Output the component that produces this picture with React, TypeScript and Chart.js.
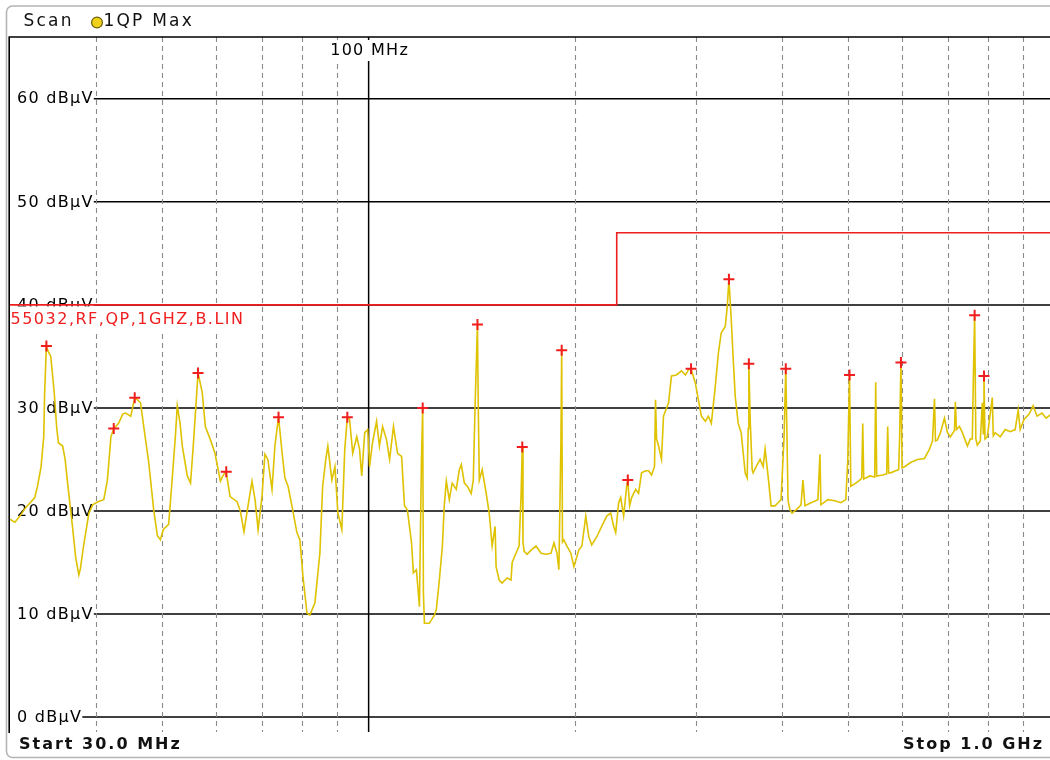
import React, { useEffect, useRef } from "react";
import { Chart, registerables } from "chart.js";

Chart.register(...registerables);

// ---------- data ----------
const traceFreqs = [
  30.0, 30.5, 31.1, 31.6, 32.2, 32.6, 32.9, 33.3, 33.5, 33.6, 33.7, 33.9, 34.1, 34.4, 34.8, 35.1, 35.3, 35.8, 36.1, 36.4,
  37.0, 37.4, 37.8, 38.0, 38.4, 39.1, 39.6, 40.3, 41.1, 41.6, 42.1, 42.5, 43.2, 43.8, 44.2, 45.0, 45.6, 46.0, 46.5, 47.0,
  47.8, 48.6, 49.2, 49.7, 50.2, 51.1, 51.7, 52.3, 52.6, 53.1, 53.5, 54.4, 55.0, 55.5, 56.1, 56.4, 57.2, 57.8, 58.8, 59.7,
  60.8, 61.4, 62.0, 62.8, 64.3, 65.0, 65.8, 66.7, 67.6, 68.3, 69.0, 69.9, 70.6, 71.3, 72.3, 73.0, 73.9, 74.8, 75.5, 76.3,
  77.3, 78.6, 79.4, 80.2, 81.3, 82.1, 83.5, 84.9, 85.7, 86.6, 87.2, 88.4, 89.3, 90.2, 91.4, 92.3, 93.1,
  93.8, 94.8, 96.1, 97.0, 97.7, 98.7, 99.7, 100.3, 101.3, 102.7, 103.7, 104.8, 106.2, 107.3, 108.7, 110.2, 111.7, 112.8,
  113.9, 115.5, 116.2, 117.4, 118.6, 119.4, 119.9, 120.2, 120.6, 122.6, 124.7, 125.5, 126.8, 128.1, 128.9, 129.8, 131.1,
  132.4, 134.2, 135.6, 136.5, 137.9, 139.3, 141.1, 142.1, 143.0, 144.1, 144.5, 145.0, 146.4, 148.4, 149.9, 151.4, 152.9,
  153.4, 155.0, 156.5, 159.2, 161.3, 161.9, 164.0, 165.7, 166.8, 167.5, 167.9, 168.5, 170.2, 172.5, 175.4, 178.4, 181.4,
  184.4, 186.3, 188.2, 189.4, 190.7, 191.2, 191.7, 192.6, 194.6, 197.2, 199.2, 202.5, 204.6, 207.3, 209.4, 211.5, 215.1,
  218.7, 222.4, 225.4, 227.7, 229.2, 231.5, 233.1, 235.4, 237.8, 238.7, 240.2, 241.8, 245.1, 247.5, 250.0, 253.4, 256.0,
  258.5, 261.1, 262.0, 262.9, 264.7, 267.3, 269.1, 273.7, 276.4, 281.1, 285.8, 289.7, 292.6, 295.2, 299.5, 302.5,
  305.6, 309.7, 312.8, 316.0, 320.2, 323.5, 326.7, 331.1, 333.4, 335.2, 337.8, 340.1, 342.4, 345.8, 349.3, 351.7, 354.0,
  356.4, 357.6, 358.4, 360.0, 362.4, 363.6, 367.3, 372.2, 376.0, 378.5, 382.3, 386.2, 391.4, 395.3, 399.3, 403.4, 405.7,
  407.4, 408.8, 411.5, 414.3, 419.9, 427.0, 429.8, 432.7, 441.5, 451.9, 455.0, 456.5, 467.3, 478.4, 488.1, 496.3, 499.6,
  502.5, 504.7, 513.2, 520.1, 523.6, 525.3, 527.1, 530.6, 537.8, 546.9, 548.7, 550.5, 561.7, 569.3, 571.2, 573.1, 576.9,
  586.6, 592.6, 594.5, 597.2, 599.5, 604.6, 616.8, 631.4, 646.4, 657.3, 663.9, 668.4, 670.6, 675.1, 681.9, 691.1, 698.1,
  705.1, 714.6, 717.0, 719.4, 726.7, 734.0, 746.4, 753.9, 758.9, 761.5, 764.8, 767.9, 771.8, 779.5, 784.8, 787.4, 789.2,
  791.9, 798.0, 811.5, 814.2, 819.6, 833.5, 847.5, 861.8, 876.3, 885.2, 891.1, 903.1, 918.4, 930.7, 943.3, 959.2, 972.1,
  985.0, 1000.0,
];
const traceLevels = [
  19.2, 18.9, 19.6, 20.3, 20.9, 21.3, 22.4, 24.3, 26.3, 27.2, 31.5, 36.0, 35.5, 35.0, 31.5, 28.0, 26.6, 26.3, 25.0, 22.7,
  18.5, 15.5, 13.8, 14.4, 16.6, 19.8, 20.6, 20.9, 21.1, 23.0, 27.2, 28.0, 28.5, 29.4, 29.5, 29.2, 31.0, 30.8, 30.5, 28.2,
  24.7, 20.1, 17.6, 17.2, 18.2, 18.7, 23.0, 27.5, 30.2, 28.5, 26.3, 23.4, 22.7, 26.3, 31.0, 33.4, 31.5, 28.2, 26.9, 25.6,
  22.9, 23.5, 23.8, 21.4, 20.9, 20.0, 18.0, 20.5, 22.9, 21.1, 18.2, 21.4, 25.5, 25.0, 22.1, 26.3, 29.1, 25.6, 23.2, 22.4,
  20.5, 17.9, 17.2, 13.7, 10.1, 9.9, 11.1, 15.9, 22.4, 25.0, 26.3, 23.0, 24.3, 19.8, 18.2, 26.0, 29.1,
  28.9, 25.6, 27.2, 26.0, 23.4, 27.6, 27.9, 24.3, 26.6, 28.7, 26.3, 28.2, 26.9, 25.0, 28.2, 25.6, 25.3, 20.5,
  20.1, 16.9, 14.0, 14.3, 10.7, 25.0, 30.0, 12.0, 9.1, 9.1, 9.9, 10.4, 13.3, 16.6, 20.5, 22.9, 21.1,
  22.7, 22.1, 24.0, 24.5, 22.7, 22.4, 21.7, 23.0, 30.5, 38.1, 30.0, 23.0, 24.0, 21.7, 19.8, 16.6, 18.5,
  14.6, 13.3, 13.0, 13.5, 13.3, 15.0, 15.9, 16.6, 21.4, 26.2, 17.0, 16.1, 15.8, 16.2, 16.6, 15.9, 15.8,
  15.9, 16.9, 15.9, 14.3, 26.6, 35.6, 17.0, 17.2, 16.6, 15.9, 14.6, 16.2, 16.6, 19.5, 17.5, 16.7, 17.5,
  18.5, 19.5, 19.8, 18.5, 17.9, 20.8, 21.3, 19.5, 22.4, 23.0, 20.5, 21.3, 22.1, 21.7, 23.7, 23.9, 23.9,
  23.5, 24.3, 30.8, 27.0, 26.3, 25.0, 29.2, 30.5, 33.1, 33.2, 33.6, 33.2, 33.7, 33.8, 32.4, 30.8,
  29.2, 28.7, 29.2, 28.5, 32.1, 35.3, 37.3, 37.9, 39.9, 42.5, 38.6, 34.7, 31.1, 28.5, 27.6, 25.6, 23.7,
  23.2, 28.0, 34.3, 28.9, 24.0, 23.7, 24.3, 25.0, 24.3, 26.0, 23.4, 20.5, 20.5, 20.8, 21.1, 27.2, 33.8,
  27.0, 21.0, 20.1, 19.8, 20.1, 20.6, 23.0, 20.5, 20.8, 21.1, 25.5, 20.6, 21.1, 21.0, 20.8, 21.1, 25.0,
  33.2, 22.4, 22.7, 23.0, 23.2, 28.5, 23.1, 23.2, 23.4, 23.3, 32.5, 23.4, 23.5, 23.6, 28.2, 23.7, 23.7,
  23.9, 24.0, 27.0, 34.4, 24.2, 24.3, 24.7, 25.0, 25.1, 26.0, 26.8, 30.9, 26.8, 26.9, 27.6, 29.0, 27.6,
  27.2, 27.8, 30.6, 27.9, 28.2, 27.6, 26.3, 27.0, 27.0, 32.8, 39.0, 27.0, 26.4, 26.8, 30.5, 27.5, 33.1,
  27.0, 27.2, 31.0, 27.3, 27.6, 27.2, 27.9, 27.7, 27.9, 29.8, 27.9, 28.9, 29.4, 30.2, 29.2, 29.5, 29.0,
  29.3, 29.1,
];

const markerFreqs = [33.9, 42.5, 45.6, 56.4, 62.0, 73.9, 93.1, 119.9, 144.1, 167.5, 191.2, 238.7, 295.2, 335.2, 358.4, 405.7, 502.5, 597.2, 764.8, 789.2];
const markerLevels = [36.0, 28.0, 31.0, 33.4, 23.8, 29.1, 29.1, 30.0, 38.1, 26.2, 35.6, 23.0, 33.8, 42.5, 34.3, 33.8, 33.2, 34.4, 39.0, 33.1];

const limitFreqs = [30, 230, 230, 1000];
const limitLevels = [40, 40, 47, 47];
const limitName = "55032,RF,QP,1GHZ,B.LIN";

const yTickValues = [0, 10, 20, 30, 40, 50, 60];
const yTickUnit = "dBµV";
const xMinorFreqs = [40, 50, 60, 70, 80, 90, 200, 300, 400, 500, 600, 700, 800, 900];
const xMajorFreqs = [100];
const xMajorLabels = ["100 MHz"];

const freqStart = 30;
const freqStop = 1000;
const levelMin = -1.45;
const levelMax = 66;

const headerTitle = "Scan";
const traceName = "1QP Max";
const startLabel = "Start 30.0 MHz";
const stopLabel = "Stop 1.0 GHz";

const YELLOW = "#dfc200";
const RED = "#f01e1e";
const FONT = '"DejaVu Sans", Verdana, sans-serif';

function setSpacing(ctx: any, px: number) {
  if ("letterSpacing" in ctx) ctx.letterSpacing = px + "px";
}

const chromePlugin = {
  id: "chrome",
  beforeDraw(chart: any) {
    const ctx = chart.ctx as CanvasRenderingContext2D;
    ctx.save();
    ctx.fillStyle = "#ffffff";
    ctx.fillRect(0, 0, chart.width, chart.height);

    // outer rounded frame
    const fx = 6.5, fy = 6, fw = chart.width + 40, fh = 751.5, r = 6;
    ctx.strokeStyle = "#b4b4b4";
    ctx.lineWidth = 1.6;
    ctx.beginPath();
    ctx.moveTo(fx + r, fy);
    ctx.lineTo(fx + fw - r, fy);
    ctx.lineTo(fx + fw, fy + fh);
    ctx.moveTo(fx + r, fy);
    ctx.arcTo(fx, fy, fx, fy + r, r);
    ctx.lineTo(fx, fy + fh - r);
    ctx.arcTo(fx, fy + fh, fx + r, fy + fh, r);
    ctx.lineTo(fx + fw, fy + fh);
    ctx.stroke();

    // header
    ctx.fillStyle = "#111";
    ctx.textBaseline = "middle";
    ctx.textAlign = "left";
    ctx.font = `17px ${FONT}`;
    setSpacing(ctx, 2.2);
    ctx.fillText(headerTitle, 23.5, 21.5);
    ctx.beginPath();
    ctx.arc(97, 22.5, 5.4, 0, Math.PI * 2);
    ctx.fillStyle = "#f0d21a";
    ctx.fill();
    ctx.strokeStyle = "#6e5e08";
    ctx.lineWidth = 1.2;
    ctx.stroke();
    ctx.fillStyle = "#111";
    ctx.fillText(traceName, 103.5, 21.5);

    // footer
    ctx.font = `bold 16px ${FONT}`;
    setSpacing(ctx, 2);
    ctx.fillText(startLabel, 19, 745);
    ctx.textAlign = "right";
    ctx.fillText(stopLabel, 1044, 745);
    setSpacing(ctx, 0);
    ctx.restore();
  },
  beforeDatasetsDraw(chart: any) {
    const ctx = chart.ctx as CanvasRenderingContext2D;
    const ca = chart.chartArea;
    const xs = chart.scales.x;
    const ys = chart.scales.y;
    ctx.save();

    // horizontal level lines
    ctx.strokeStyle = "#000";
    ctx.lineWidth = 1.5;
    for (const v of yTickValues) {
      const py = ys.getPixelForValue(v);
      ctx.beginPath();
      ctx.moveTo(ca.left, py);
      ctx.lineTo(ca.right, py);
      ctx.stroke();
    }

    // dashed frequency grid
    ctx.strokeStyle = "#8a8a8a";
    ctx.lineWidth = 1.1;
    ctx.setLineDash([5, 4]);
    for (const f of xMinorFreqs) {
      const px = Math.round(xs.getPixelForValue(f)) + 0.5;
      ctx.beginPath();
      ctx.moveTo(px, ca.top);
      ctx.lineTo(px, ca.bottom);
      ctx.stroke();
    }
    ctx.setLineDash([]);

    // solid decade line
    ctx.strokeStyle = "#000";
    ctx.lineWidth = 1.5;
    for (const f of xMajorFreqs) {
      const px = xs.getPixelForValue(f);
      ctx.beginPath();
      ctx.moveTo(px, ca.top);
      ctx.lineTo(px, ca.bottom);
      ctx.stroke();
    }

    // plot border (top & left)
    ctx.lineWidth = 1.6;
    ctx.beginPath();
    ctx.moveTo(ca.left - 0.8, ca.bottom + 1);
    ctx.lineTo(ca.left - 0.8, ca.top);
    ctx.lineTo(ca.right + 20, ca.top);
    ctx.stroke();

    // level labels
    ctx.font = `16px ${FONT}`;
    setSpacing(ctx, 1.3);
    ctx.textBaseline = "middle";
    ctx.textAlign = "left";
    for (const v of yTickValues) {
      const py = ys.getPixelForValue(v);
      const label = `${v} ${yTickUnit}`;
      const w = ctx.measureText(label).width;
      ctx.fillStyle = "#fff";
      ctx.fillRect(ca.left, py - 8, 17 + w - ca.left, 16);
      ctx.fillStyle = "#000";
      ctx.fillText(label, 17, py + 0.5);
    }

    // decade label
    xMajorFreqs.forEach((f, i) => {
      const px = xs.getPixelForValue(f);
      const label = xMajorLabels[i];
      const w = ctx.measureText(label).width;
      ctx.fillStyle = "#fff";
      ctx.fillRect(px - w / 2 - 3, ca.top + 3, w + 6, 21);
      ctx.fillStyle = "#000";
      ctx.fillText(label, px - w / 2 + 1, ca.top + 13.5);
    });
    setSpacing(ctx, 0);
    ctx.restore();
  },
  afterDatasetDraw(chart: any, args: any) {
    if (args.index !== 0) return;
    const ctx = chart.ctx as CanvasRenderingContext2D;
    const ca = chart.chartArea;
    const ys = chart.scales.y;
    const py = ys.getPixelForValue(limitLevels[0]);
    ctx.save();
    ctx.font = `16px ${FONT}`;
    setSpacing(ctx, 1.5);
    const w = ctx.measureText(limitName).width;
    ctx.fillStyle = "#fff";
    ctx.fillRect(ca.left, py + 1.5, w + 2, 24);
    ctx.fillStyle = RED;
    ctx.textBaseline = "middle";
    ctx.textAlign = "left";
    ctx.fillText(limitName, ca.left + 0.5, py + 15);
    setSpacing(ctx, 0);
    ctx.restore();
  },
};

export default function App() {
  const ref = useRef<HTMLCanvasElement>(null);
  useEffect(() => {
    const canvas = ref.current;
    if (!canvas) return;
    const chart = new Chart(canvas, {
      type: "line",
      data: {
        datasets: [
          {
            label: limitName,
            data: limitFreqs.map((f, i) => ({ x: f, y: limitLevels[i] })),
            borderColor: RED,
            borderWidth: 1.6,
            pointRadius: 0,
            tension: 0,
            order: 3,
          },
          {
            label: traceName,
            data: traceFreqs.map((f, i) => ({ x: f, y: traceLevels[i] })),
            borderColor: YELLOW,
            borderWidth: 1.6,
            pointRadius: 0,
            tension: 0,
            order: 2,
          },
          {
            label: "Peaks",
            data: markerFreqs.map((f, i) => ({ x: f, y: markerLevels[i] })),
            showLine: false,
            pointStyle: "cross",
            pointRadius: 5.5,
            pointBorderColor: RED,
            pointBackgroundColor: RED,
            pointBorderWidth: 2,
            borderColor: RED,
            order: 1,
          },
        ],
      } as any,
      options: {
        animation: false,
        responsive: false,
        devicePixelRatio: 1,
        layout: { padding: { left: 10, top: 37, right: 5, bottom: 28 } },
        scales: {
          x: { type: "logarithmic", min: freqStart, max: freqStop, display: false },
          y: { type: "linear", min: levelMin, max: levelMax, display: false },
        },
        plugins: {
          legend: { display: false },
          tooltip: { enabled: false },
        },
        events: [],
      } as any,
      plugins: [chromePlugin as any],
    });
    return () => chart.destroy();
  }, []);

  return (
    <div
      style={{
        position: "fixed",
        left: 0,
        top: 0,
        width: 1050,
        height: 760,
        overflow: "hidden",
        background: "#fff",
      }}
    >
      <canvas ref={ref} width={1062} height={760} style={{ display: "block" }} />
    </div>
  );
}
